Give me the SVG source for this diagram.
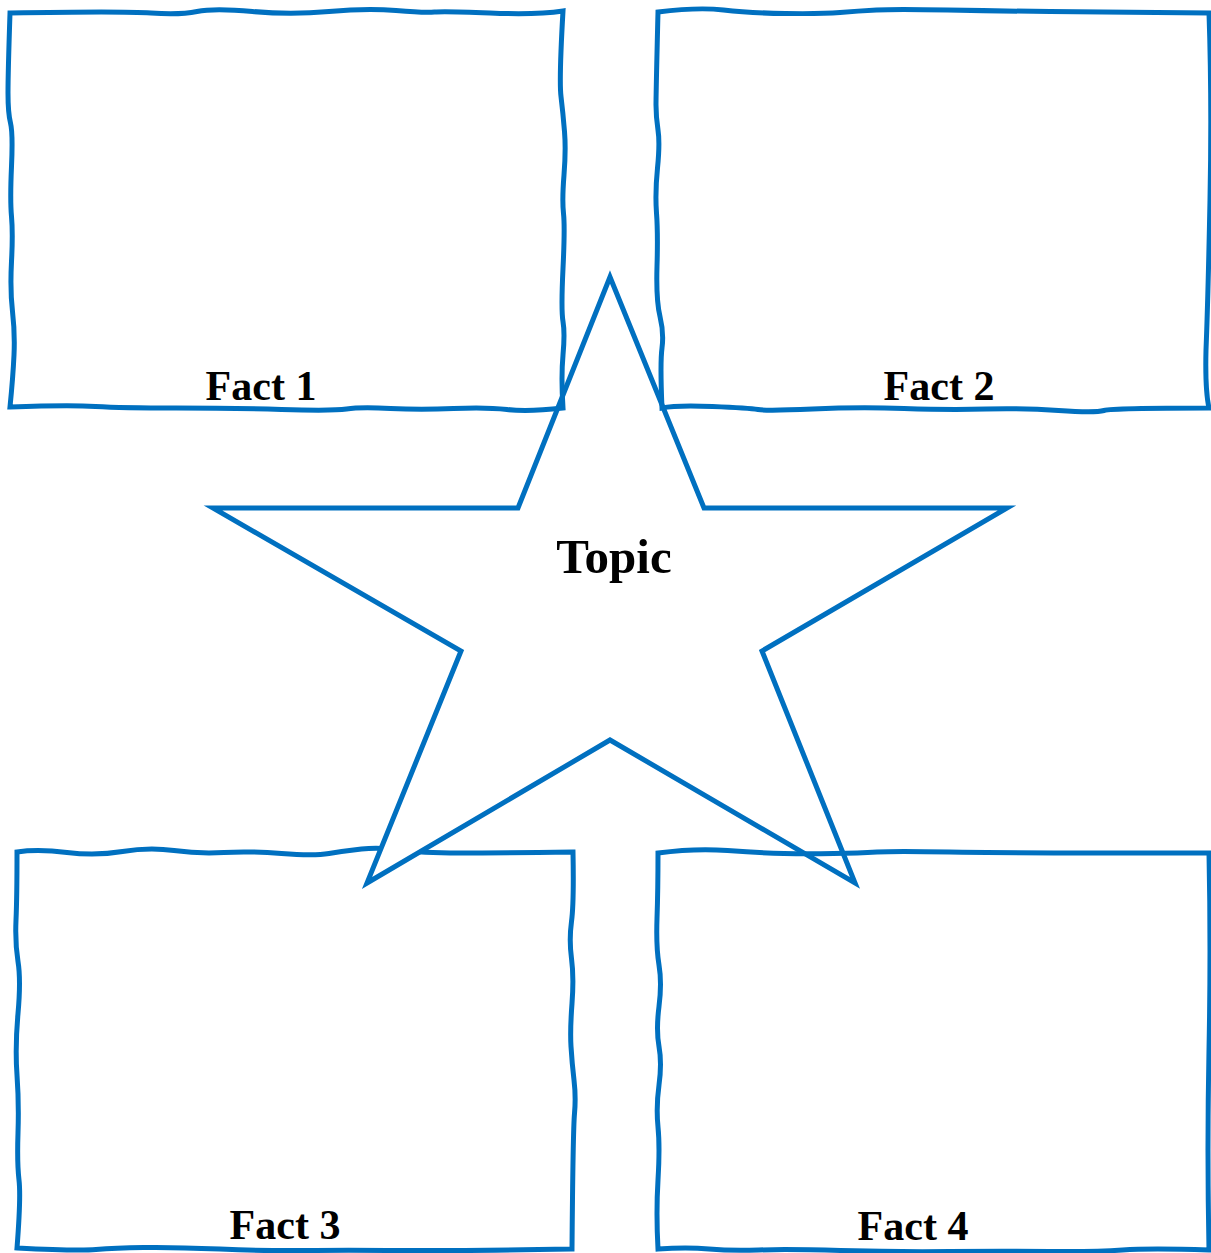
<svg xmlns="http://www.w3.org/2000/svg" width="1211" height="1253" viewBox="0 0 1211 1253">
<style>
.box{fill:none;stroke:#0070C0;stroke-width:5;stroke-linejoin:miter}
.star{fill:#FFFFFF;stroke:#0070C0;stroke-width:5;stroke-linejoin:miter}
.lbl{font-family:"Liberation Serif","Times New Roman",serif;font-weight:bold;font-size:42px;fill:#000;text-anchor:middle}
.topic{font-size:49px}
</style>
<rect width="1211" height="1253" fill="#FFFFFF"/>
<g id="fact3">
<path class="box" d="M17,852 Q38,849 67,852.5 Q96,856 122.5,851.5 Q149,847 174,850.5 Q199,854 224,852.5 Q249,851 281.5,853.5 Q314,856 329,853.5 Q344,851 361.5,849 Q379,847 400,850 Q421,853 459.5,853 Q498,853 573,852 Q574,903 571.5,921.5 Q569,940 571.5,958.5 Q574,977 572,1003.5 Q570,1030 571,1046.5 Q572,1063 574,1080 Q576,1097 574.5,1113.5 Q573,1130 572,1249 Q459,1251 401.5,1250.5 Q344,1250 306,1250.5 Q268,1251 220,1249 Q172,1247 143.5,1247.5 Q115,1248 96,1249.5 Q77,1251 17,1248 Q21,1197 19,1180 Q17,1163 18,1133 Q19,1103 17,1075 Q15,1047 18,1013.5 Q21,980 18,961.5 Q15,943 16,920 Q17,897 17,852 Z"/>
<text class="lbl" x="285" y="1239">Fact 3</text>
</g>
<g id="topic">
<polygon class="star" points="610,277 518,508 213,508 461,651 367,883 610,740 855,883 762,651 1007,508 704,508"/>
<text class="lbl topic" x="614" y="573">Topic</text>
</g>
<g id="fact1">
<path class="box" d="M10,13 Q122,11 151,13 Q180,15 197,11.5 Q214,8 252.5,11.5 Q291,15 329,11.5 Q367,8 396,10.5 Q425,13 434.5,12 Q444,11 490,13 Q536,15 563,11 Q559,80 561,96.5 Q563,113 564.5,131.5 Q566,150 564,175 Q562,200 563.5,213.5 Q565,227 563,268.5 Q561,310 563,321.5 Q565,333 563,355 Q561,377 563,408 Q528,412 507,409.5 Q486,407 453.5,408.5 Q421,410 390.5,408.5 Q360,407 346.5,409 Q333,411 281.5,409.5 Q230,408 176,408 Q122,408 95.5,406.5 Q69,405 10,407 Q13,377 14,355 Q15,333 12.5,311.5 Q10,290 11.5,261.5 Q13,233 11.5,216.5 Q10,200 11.5,166.5 Q13,133 10.5,123 Q8,113 8,93 Q8,73 10,13 Z"/>
<text class="lbl" x="261" y="400">Fact 1</text>
</g>
<g id="fact2">
<path class="box" d="M658,12 Q698,7 723.5,10 Q749,13 785.5,13.5 Q822,14 840,12.5 Q858,11 876.5,10 Q895,9 947.5,10 Q1000,11 1050,11.5 Q1100,12 1209,13 Q1212,100 1210,200 Q1208,300 1206,350 Q1205,390 1209,408 Q1113,408 1104,410.5 Q1095,413 1058.5,410.5 Q1022,408 986,409 Q950,410 904,408.5 Q858,407 812.5,409 Q767,411 758,409.5 Q749,408 712.5,406.5 Q676,405 662,408 Q660,363 662,348 Q664,333 660,316.5 Q656,300 657,266.5 Q658,233 656.5,213 Q655,193 657.5,168 Q660,143 658,130 Q656,117 656,105 Q656,93 658,12 Z"/>
<text class="lbl" x="939" y="400">Fact 2</text>
</g>
<g id="fact4">
<path class="box" d="M658,853 Q695,848 727.5,850.5 Q760,853 784,853.5 Q808,854 833.5,853.5 Q859,853 877,852 Q895,851 949.5,852 Q1004,853 1209,853 Q1211,950 1209,1050 Q1207,1150 1209,1250 Q1150,1248 1122.5,1250 Q1095,1252 1049.5,1251.5 Q1004,1251 949.5,1251.5 Q895,1252 840.5,1250.5 Q786,1249 758.5,1250 Q731,1251 709,1249 Q687,1247 658,1249 Q656,1213 658,1180 Q660,1147 658,1127 Q656,1107 659,1085 Q662,1063 659,1046.5 Q656,1030 659,1006.5 Q662,983 659,965 Q656,947 657,918.5 Q658,890 658,853 Z"/>
<text class="lbl" x="913" y="1240">Fact 4</text>
</g>
<g id="connectors"/>
</svg>
